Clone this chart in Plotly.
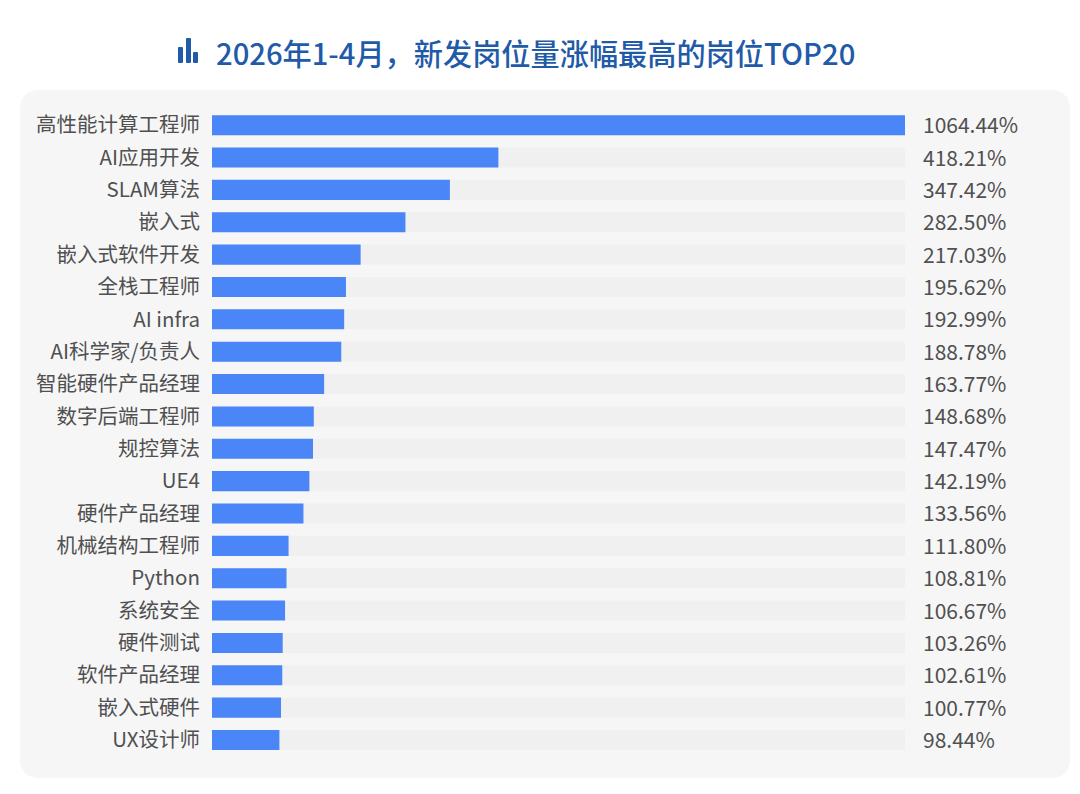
# -*- coding: utf-8 -*-
import plotly.graph_objects as go

jobs = ["高性能计算工程师", "AI应用开发", "SLAM算法", "嵌入式", "嵌入式软件开发",
        "全栈工程师", "AI infra", "AI科学家/负责人", "智能硬件产品经理", "数字后端工程师",
        "规控算法", "UE4", "硬件产品经理", "机械结构工程师", "Python",
        "系统安全", "硬件测试", "软件产品经理", "嵌入式硬件", "UX设计师"]
growth = [1064.44, 418.21, 347.42, 282.50, 217.03,
          195.62, 192.99, 188.78, 163.77, 148.68,
          147.47, 142.19, 133.56, 111.80, 108.81,
          106.67, 103.26, 102.61, 100.77, 98.44]
title = "2026年1-4月，新发岗位量涨幅最高的岗位TOP20"

# top bar runs off the scale in the original, the rest sit on about this range
axis_max = 1012

W, H = 1080, 794
# plot area in pixels
L, R, T, B = 212, 905, 109, 758
FONT = "Noto Sans CJK SC"


# paper coords are relative to the plot area, not the page
def px_x(v):
    return (v - L) / (R - L)


def px_y(v):
    return 1 - (v - T) / (B - T)


def round_rect(x0, y0, x1, y1, r):
    x0, x1 = px_x(x0), px_x(x1)
    y0, y1 = px_y(y0), px_y(y1)
    rx, ry = r / (R - L), r / (B - T)
    return (f"M {x0 + rx} {y0} L {x1 - rx} {y0} Q {x1} {y0} {x1} {y0 - ry} "
            f"L {x1} {y1 + ry} Q {x1} {y1} {x1 - rx} {y1} "
            f"L {x0 + rx} {y1} Q {x0} {y1} {x0} {y1 + ry} "
            f"L {x0} {y0 - ry} Q {x0} {y0} {x0 + rx} {y0} Z")


fig = go.Figure()
fig.add_trace(go.Bar(y=jobs, x=[axis_max] * len(jobs), orientation="h",
                     marker=dict(color="#f0f0f0", line_width=0), hoverinfo="skip"))
fig.add_trace(go.Bar(y=jobs, x=growth, orientation="h",
                     marker=dict(color="#4a86f8", line_width=0)))

# panel behind the plot and the small bar icon next to the title
shapes = [dict(type="path", xref="paper", yref="paper", layer="below",
               path=round_rect(20, 90, 1070, 778, 20),
               fillcolor="#f6f6f7", line_width=0)]
for x0, y0 in [(178, 47), (186, 38), (193, 52)]:
    shapes.append(dict(type="path", xref="paper", yref="paper",
                       path=round_rect(x0, y0, x0 + 5, 63, 1),
                       fillcolor="#1f5ba8", line_width=0))

annos = [dict(xref="paper", yref="paper", x=px_x(535), y=px_y(52), text=title,
              showarrow=False, xanchor="center", yanchor="middle",
              font=dict(family=FONT, size=29.2, color="#1f5ba8", weight=500))]
for job, val in zip(jobs, growth):
    annos.append(dict(xref="paper", yref="y", x=1, xshift=16, yshift=1, y=job,
                      text=f"{val:.2f}%", showarrow=False,
                      xanchor="left", yanchor="middle",
                      font=dict(family=FONT, size=21, color="#505050")))

fig.update_layout(
    width=W, height=H, autosize=False,
    margin=dict(l=L, r=W - R, t=T, b=H - B, pad=0),
    paper_bgcolor="#ffffff", plot_bgcolor="rgba(0,0,0,0)",
    barmode="overlay", bargap=0.38, showlegend=False,
    shapes=shapes, annotations=annos,
    font=dict(family=FONT),
)
fig.update_xaxes(range=[0, axis_max], visible=False, fixedrange=True)
fig.update_yaxes(autorange="reversed", showgrid=False, zeroline=False, showline=False,
                 ticks="", ticklabelstandoff=11, fixedrange=True,
                 tickfont=dict(family=FONT, size=20.5, color="#505050"))

fig.write_html("out.html", config=dict(displayModeBar=False),
               post_script="document.body.style.margin='0';")
